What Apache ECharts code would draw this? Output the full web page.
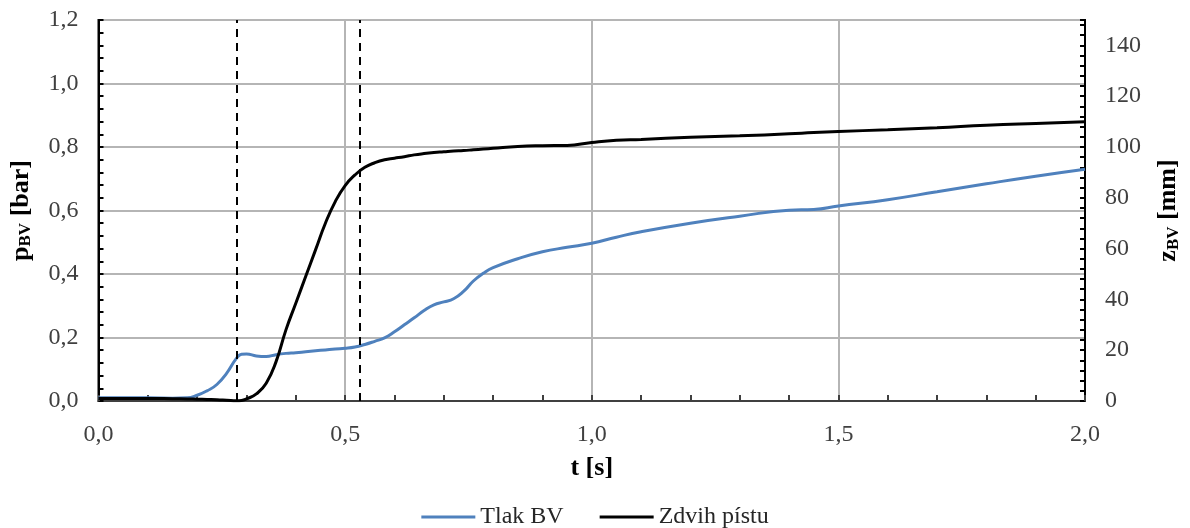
<!DOCTYPE html>
<html>
<head>
<meta charset="utf-8">
<script src="https://cdn.jsdelivr.net/npm/echarts@6/dist/echarts.min.js"></script>
<style>
  html, body { margin: 0; padding: 0; background: #fff; }
  #chart { width: 1190px; height: 528px; }
</style>
</head>
<body>
<div id="chart"></div>
<script>
// time [s]
var cas = [0, 0.05, 0.1, 0.15, 0.18, 0.2, 0.22, 0.24, 0.26, 0.28, 0.29, 0.3, 0.32, 0.34, 0.36, 0.38,
    0.4, 0.42, 0.44, 0.46, 0.48, 0.5, 0.52, 0.54, 0.56, 0.58, 0.6, 0.62, 0.64, 0.66, 0.68, 0.7,
    0.72, 0.74, 0.76, 0.78, 0.8, 0.85, 0.9, 0.95, 1.0, 1.05, 1.1, 1.2, 1.3, 1.4, 1.45, 1.5,
    1.6, 1.7, 1.8, 1.9, 2.0];
// pressure p_BV [bar]
var tlakBV = [0.010, 0.010, 0.010, 0.009, 0.010, 0.018, 0.032, 0.052, 0.088, 0.135, 0.147, 0.148,
    0.142, 0.140, 0.146, 0.150, 0.152, 0.155, 0.158, 0.161, 0.164, 0.166, 0.170, 0.178, 0.188,
    0.199, 0.218, 0.240, 0.262, 0.285, 0.303, 0.312, 0.322, 0.345, 0.378, 0.402, 0.420, 0.448,
    0.470, 0.484, 0.497, 0.516, 0.533, 0.560, 0.582, 0.601, 0.603, 0.614, 0.634, 0.659, 0.684,
    0.708, 0.730];
// piston stroke z_BV [mm]
var zdvihPistu = [1.0, 1.0, 1.0, 0.9, 0.8, 0.7, 0.6, 0.5, 0.3, 0.1, 0.2, 0.8, 2.8, 7, 15.5, 28,
    38.5, 49, 59.5, 70, 78.5, 84.8, 89, 92, 93.8, 95, 95.6, 96.2, 96.9, 97.4, 97.8, 98.1, 98.4,
    98.6, 98.9, 99.2, 99.5, 100.2, 100.5, 100.6, 101.8, 102.7, 103.0, 103.8, 104.4, 105.2,
    105.7, 106.1, 106.8, 107.6, 108.6, 109.3, 109.9];
// dashed markers [s]
var znacky = [0.285, 0.53];

var font = 'Liberation Serif';
var carka = function (v) { return v.toFixed(1).replace('.', ','); };

var nameRich = {
    b: { fontFamily: font, fontSize: 26, fontWeight: 'bold', color: '#000' },
    s: { fontFamily: font, fontSize: 17, fontWeight: 'bold', color: '#000', padding: [10, 0, 0, 0] }
};

var myChart = echarts.init(document.getElementById('chart'));
var option = {
    animation: false,
    grid: { left: 97, right: 102, top: 20, bottom: 127, show: true, borderColor: '#000', borderWidth: 2 },
    legend: {
        bottom: -6,
        left: 'center',
        itemWidth: 54,
        itemHeight: 14,
        itemGap: 36,
        icon: 'path://M0,6 L54,6 L54,9 L0,9 Z',
        textStyle: { fontFamily: font, fontSize: 24, color: '#262626' },
        data: ['Tlak BV', 'Zdvih pístu']
    },
    xAxis: {
        type: 'value', min: 0, max: 2, interval: 0.5,
        name: '{b|t [s]}', nameLocation: 'middle', nameGap: 54,
        nameTextStyle: { rich: nameRich },
        axisLine: { lineStyle: { color: '#404040', width: 2 } },
        axisTick: { inside: true, length: 6, lineStyle: { color: '#404040', width: 2 } },
        minorTick: { show: true, splitNumber: 5, length: 6, lineStyle: { color: '#404040', width: 2 } },
        axisLabel: { formatter: carka, fontFamily: font, fontSize: 24, color: '#404040', margin: 22 },
        splitLine: { show: true, lineStyle: { color: '#b5b5b5', width: 2 } }
    },
    yAxis: [{
        type: 'value', min: 0, max: 1.2, interval: 0.2,
        name: '{b|p}{s|BV}{b| [bar]}', nameLocation: 'middle', nameGap: 64, nameRotate: 90,
        nameTextStyle: { rich: nameRich },
        axisLine: { show: true, lineStyle: { color: '#000', width: 2 } },
        axisTick: { inside: true, length: 5, lineStyle: { color: '#000', width: 2 } },
        minorTick: { show: true, splitNumber: 5, length: 5, lineStyle: { color: '#000', width: 2 } },
        axisLabel: { formatter: carka, fontFamily: font, fontSize: 24, color: '#404040', margin: 20 },
        splitLine: { show: true, lineStyle: { color: '#b5b5b5', width: 2 } }
    }, {
        type: 'value', min: 0, max: 150, interval: 4,
        name: '{b|z}{s|BV}{b| [mm]}', nameLocation: 'middle', nameGap: 70, nameRotate: 90,
        nameTextStyle: { rich: nameRich },
        axisLine: { show: true, lineStyle: { color: '#000', width: 2 } },
        axisTick: { inside: true, length: 5, lineStyle: { color: '#000', width: 2 } },
        axisLabel: {
            formatter: function (v) { return (v % 20 === 0 && v <= 140) ? String(v) : ''; },
            fontFamily: font, fontSize: 24, color: '#404040', margin: 20
        },
        splitLine: { show: false }
    }],
    series: [{
        name: 'Tlak BV', type: 'line', yAxisIndex: 0, smooth: true, symbol: 'none',
        lineStyle: { color: '#4F81BD', width: 3 }, itemStyle: { color: '#4F81BD' },
        data: cas.map(function (t, i) { return [t, tlakBV[i]]; })
    }, {
        name: 'Zdvih pístu', type: 'line', yAxisIndex: 1, smooth: true, symbol: 'none',
        lineStyle: { color: '#000', width: 3 }, itemStyle: { color: '#000' },
        data: cas.map(function (t, i) { return [t, zdvihPistu[i]]; }),
        markLine: {
            silent: true, symbol: ['none', 'none'], label: { show: false },
            lineStyle: { color: '#000', width: 2, type: [8, 6] },
            data: znacky.map(function (t) { return { xAxis: t }; })
        }
    }]
};
myChart.setOption(option);
</script>
</body>
</html>
